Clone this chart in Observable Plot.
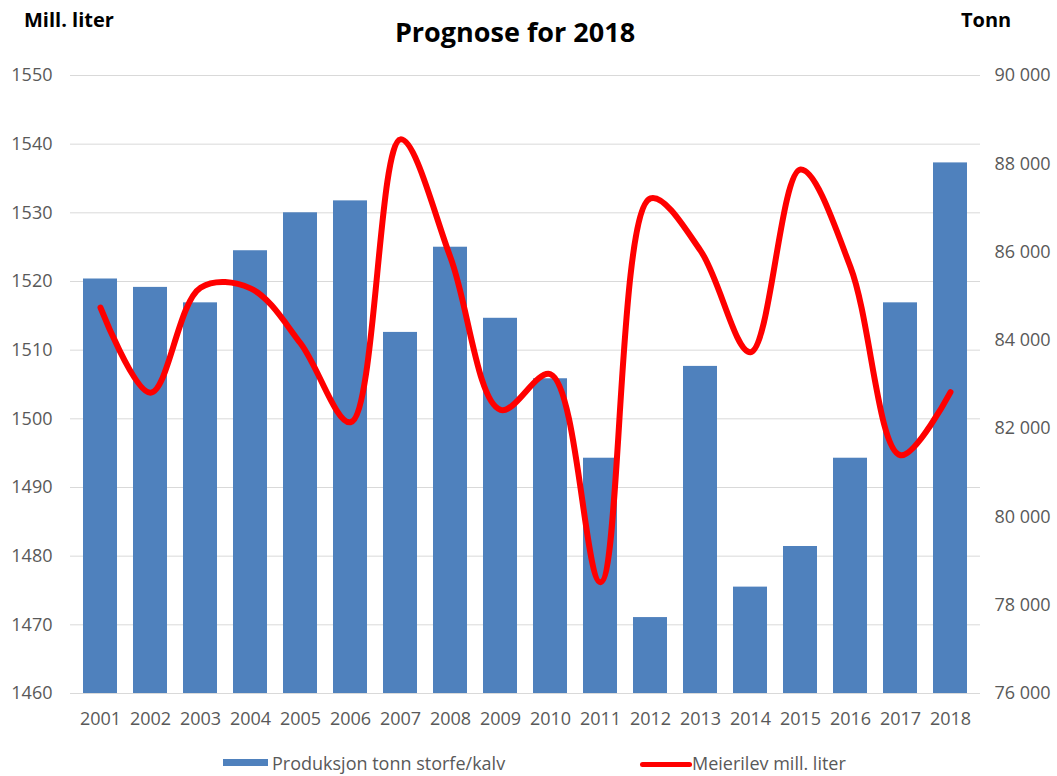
<!DOCTYPE html>
<html><head><meta charset="utf-8">
<script src="https://cdn.jsdelivr.net/npm/d3@7"></script>
<script src="https://cdn.jsdelivr.net/npm/@observablehq/plot@0.6"></script>
<style>
body{margin:0;background:#fff;}
#wrap{position:relative;width:1057px;height:776px;font-family:"Open Sans",sans-serif;overflow:hidden;}
#chart{position:absolute;left:0;top:0;}
.t{position:absolute;white-space:nowrap;line-height:1;}
#title{left:0;width:1030px;text-align:center;top:18px;font-size:27px;font-weight:700;color:#000;}
#lunit{left:24px;top:10px;font-size:20px;font-weight:700;color:#000;}
#runit{left:961px;top:10px;font-size:20px;font-weight:700;color:#000;}
.leg{top:754px;font-size:18px;color:#595959;}
.sw{position:absolute;}
</style></head><body>
<div id="wrap">
  <div id="chart"></div>
  <div class="t" id="title">Prognose for 2018</div>
  <div class="t" id="lunit">Mill. liter</div>
  <div class="t" id="runit">Tonn</div>
  <div class="sw" style="left:223px;top:759px;width:45px;height:7px;background:#4f81bd;"></div>
  <div class="t leg" style="left:272px;">Produksjon tonn storfe/kalv</div>
  <div class="sw" style="left:640px;top:762px;width:52px;height:5px;background:#ff0000;border-radius:3px;"></div>
  <div class="t leg" style="left:692px;">Meierilev mill. liter</div>
</div>
<script>
const years = ["2001","2002","2003","2004","2005","2006","2007","2008","2009","2010","2011","2012","2013","2014","2015","2016","2017","2018"];
const produksjonTonn = [85390, 85200, 84850, 86030, 86890, 87160, 84180, 86110, 84500, 83130, 81330, 77720, 83410, 78410, 79330, 81330, 84850, 88020];
const meierilevLiter = [1516.2, 1503.8, 1519.1, 1519.0, 1511.0, 1499.5, 1540.7, 1523.5, 1501.3, 1506.5, 1476.2, 1532.1, 1524.5, 1509.7, 1536.3, 1522.1, 1494.7, 1503.9];
const leftTicks = [1460, 1470, 1480, 1490, 1500, 1510, 1520, 1530, 1540, 1550];
const rightTicks = [76000, 78000, 80000, 82000, 84000, 86000, 88000, 90000];

const L0 = 1460, L1 = 1550, T0 = 76000, T1 = 90000;
const toLiter = t => L0 + (t - T0) * (L1 - L0) / (T1 - T0);
const toTonn = v => T0 + (v - L0) * (T1 - T0) / (L1 - L0);
const fmt = n => d3.format(",")(Math.round(n / 1000) * 1000).replace(/,/g, " ");

const data = years.map((y, i) => ({year: y, tonn: produksjonTonn[i], liter: meierilevLiter[i]}));

const chart = Plot.plot({
  width: 1057,
  height: 740,
  marginTop: 75,
  marginBottom: 47,
  marginLeft: 70,
  marginRight: 77,
  x: {type: "band", domain: years, paddingInner: 0.32, paddingOuter: 0.16},
  y: {domain: [L0, L1]},
  style: {fontFamily: "Open Sans, sans-serif", fontSize: "18px", color: "#595959", background: "white"},
  marks: [
    Plot.gridY(leftTicks, {stroke: "#d9d9d9", strokeOpacity: 1, strokeWidth: 1}),
    Plot.barY(data, {x: "year", y1: L0, y2: d => toLiter(d.tonn), fill: "#4f81bd"}),
    Plot.line(data, {x: "year", y: "liter", stroke: "#ff0000", strokeWidth: 6, curve: "catmull-rom"}),
    Plot.axisY(leftTicks, {anchor: "left", tickSize: 0, tickPadding: 18, label: null, tickFormat: d => String(d)}),
    Plot.axisY(rightTicks.map(toLiter), {anchor: "right", tickSize: 0, tickPadding: 14, label: null, tickFormat: v => fmt(toTonn(v))}),
    Plot.axisX({tickSize: 0, tickPadding: 19, label: null})
  ]
});
document.getElementById("chart").appendChild(chart);
</script>
</body></html>
